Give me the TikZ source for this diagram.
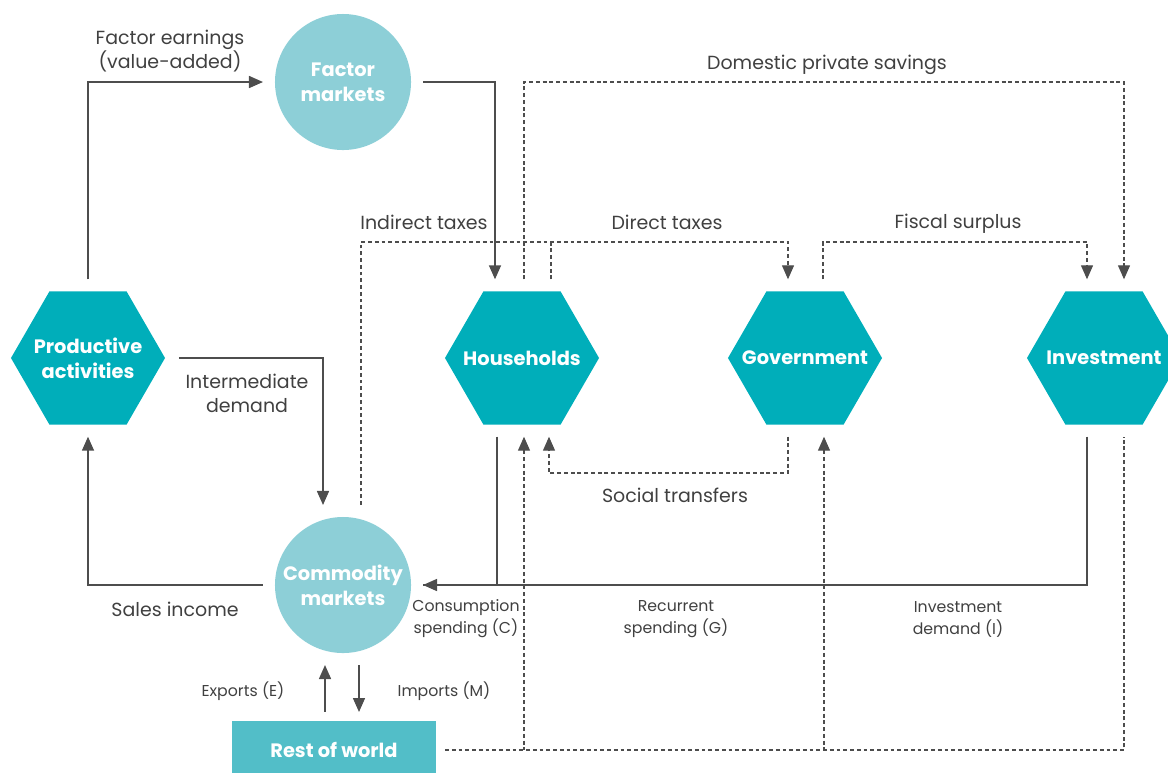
\documentclass[tikz,border=0pt]{standalone}
\usepackage{fontspec}
\setmainfont{Poppins}
\usetikzlibrary{arrows.meta,shapes.geometric,positioning,calc}
\definecolor{hexteal}{HTML}{00AEBA}
\definecolor{mktteal}{HTML}{8DCFD7}
\definecolor{rowteal}{HTML}{52BEC8}
\definecolor{inkgray}{HTML}{404040}
\definecolor{linegray}{HTML}{4D4D4D}
\tikzset{
	sector/.style={
		regular polygon,
		regular polygon sides=6,
		fill=hexteal,
		inner sep=0pt,
		minimum size=3.85cm,
		outer sep=0.3cm,
	},
	sectortext/.style={
		text=white,
		font=\fontsize{13.8}{17.8}\selectfont\bfseries,
		align=center,
	},
	market/.style={
		circle,
		fill=mktteal,
		text=white,
		font=\fontsize{13.8}{17.8}\selectfont\bfseries,
		align=center,
		inner sep=0pt,
		minimum size=3.4cm,
		outer sep=0.3cm,
	},
	world/.style={
		rectangle,
		fill=rowteal,
		text=white,
		font=\fontsize{13.8}{17.8}\selectfont\bfseries,
		minimum width=5.1cm,
		minimum height=1.45cm,
		outer sep=0.225cm,
	},
	flow/.style={
		draw=linegray,
		line width=1.1pt
	},
	transfer/.style={
		draw=linegray,
		line width=0.9pt,
		dash pattern=on 2.8pt off 2pt
	},
	lbl/.style={
		text=inkgray,
		align=center,
		font=\fontsize{13.5}{17}\selectfont
	},
	smalllbl/.style={
		text=inkgray,
		align=center,
		font=\fontsize{11.2}{15.6}\selectfont
	}
}

\begin{document}
\begin{tikzpicture}[x=0.025cm,y=-0.025cm,>={Triangle[length=0.35cm,width=0.3cm]}]
	\clip (0,0) rectangle (1168,772);
	\node [sector,label={[sectortext]center:{Productive\\activities}}] (pa) at (88,358) {};
	\node [sector,label={[sectortext]center:Households}] (hh) at (522,358) {};
	\node [sector,label={[sectortext]center:Government}] (gv) at (805,358) {};
	\node [sector,label={[sectortext]center:Investment}] (iv) at (1104,358) {};
	\node [market] (fm) at (343,82) {Factor\\markets};
	\node [market] (cm) at (343,585) {Commodity\\markets};
	\node [world] (rw) at (334,750) {Rest of world};
	\coordinate (taxrow) at (0,242);
	\coordinate (socrow) at (0,473);

	% real flows
	\draw[flow,->] (pa.north) |- (fm.west);
	\draw[flow,->] (fm.east) -| ($(hh.north)+(-27,0)$);
	\draw[flow,->] (pa.east) -| ($(cm.north)+(-20,0)$);
	\draw[flow,->] (cm.west) -| (pa.south);
	\draw[flow,->] ($(iv.south)+(-17,0)$) |- (cm.east);
	\draw[flow] ($(hh.south)+(-25,0)$) |- (cm.east);
	\draw[flow,<-] ($(cm.south)+(-18,0)$) coordinate (ex) -- (ex |- rw.north);
	\draw[flow,->] ($(cm.south)+(16,0)$) coordinate (im) -- (im |- rw.north);

	% transfers
	\draw[transfer,->] ($(hh.north)+(2,0)$) coordinate (sv) -- (sv |- fm.east) -| ($(iv.north)+(20,0)$);
	\draw[transfer,->] ($(cm.north)+(18,0)$) coordinate (it) -- (it |- taxrow) -| ($(gv.north)+(-17,0)$);
	\draw[transfer] ($(hh.north)+(29,0)$) coordinate (dt) -- (dt |- taxrow);
	\draw[transfer,->] ($(gv.north)+(18,0)$) coordinate (fs) -- (fs |- taxrow) -| ($(iv.north)+(-17,0)$);
	\draw[transfer,->] ($(gv.south)+(-17,0)$) coordinate (st) -- (st |- socrow) -| ($(hh.south)+(27,0)$);
	\draw[transfer] (rw.east) -| ($(iv.south)+(20,0)$);
	\draw[transfer,<-] ($(hh.south)+(2,0)$) coordinate (rh) -- (rh |- rw.east);
	\draw[transfer,<-] ($(gv.south)+(19,0)$) coordinate (rg) -- (rg |- rw.east);

	\node [lbl] (fe) at (170,51) {Factor earnings\\(value-added)};
	\node [lbl] (dps) at (827,65) {Domestic private savings};
	\node [lbl] (itx) at (424,222) {Indirect taxes};
	\node [lbl] (dtx) at (667,222) {Direct taxes};
	\node [lbl] (fsl) at (958,224) {Fiscal surplus};
	\node [lbl] (imd) at (247,393) {Intermediate\\demand};
	\node [lbl] (sot) at (675,495) {Social transfers};
	\node [lbl] (sai) at (175,609) {Sales income};
	\node [smalllbl] (cons) at (466,619) {Consumption\\spending (C)};
	\node [smalllbl] (recs) at (676,619) {Recurrent\\spending (G)};
	\node [smalllbl] (invd) at (958,619) {Investment\\demand (I)};
	\node [smalllbl] (exl) at (243,691) {Exports (E)};
	\node [smalllbl] (iml) at (444,691) {Imports (M)};
\end{tikzpicture}
\end{document}
